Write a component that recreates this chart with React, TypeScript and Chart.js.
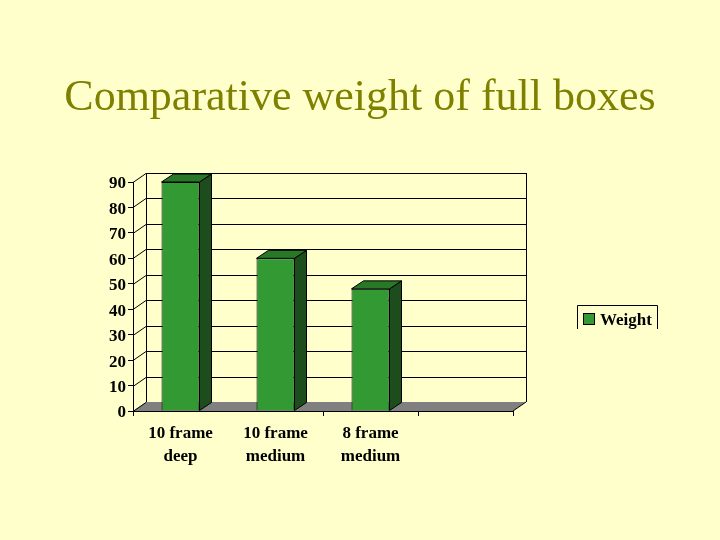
import { useEffect, useRef } from "react";
import { Chart, registerables } from "chart.js";

Chart.register(...registerables);

const categories: (string | string[])[] = [
  ["10 frame", "deep"],
  ["10 frame", "medium"],
  ["8 frame", "medium"],
  "",
];
const weights: (number | null)[] = [90, 60, 48, null];
const yTicks = [0, 10, 20, 30, 40, 50, 60, 70, 80, 90];
const seriesLabel = "Weight";
const chartTitle = "Comparative weight of full boxes";

const BG = "#ffffcc";
const FONT = "'Liberation Serif', 'Times New Roman', serif";
const DX = 13; // depth of the 3D box
const DY = -9;

// draws the back wall, left wall, floor and the 3D sides of the bars
const box3d = {
  id: "box3d",
  beforeDatasetsDraw(chart: Chart) {
    const { ctx, chartArea, scales } = chart;
    const { left, right, top, bottom } = chartArea;
    const y = scales.y;
    ctx.save();
    ctx.strokeStyle = "#000";
    ctx.lineWidth = 1;

    // floor
    ctx.fillStyle = "#808080";
    ctx.beginPath();
    ctx.moveTo(left, bottom);
    ctx.lineTo(right, bottom);
    ctx.lineTo(right + DX, bottom + DY);
    ctx.lineTo(left + DX, bottom + DY);
    ctx.closePath();
    ctx.fill();
    ctx.beginPath();
    ctx.moveTo(right, bottom);
    ctx.lineTo(right + DX, bottom + DY);
    ctx.stroke();

    // grid lines on back wall + diagonals on the left wall
    yTicks.forEach((v) => {
      const py = Math.round(y.getPixelForValue(v)) + 0.5;
      ctx.beginPath();
      ctx.moveTo(left, py);
      ctx.lineTo(left + DX, py + DY);
      if (v !== 0) ctx.lineTo(right + DX, py + DY);
      ctx.stroke();
    });

    // wall edges
    ctx.beginPath();
    ctx.moveTo(left + DX + 0.5, top + DY);
    ctx.lineTo(left + DX + 0.5, bottom + DY);
    ctx.moveTo(right + DX + 0.5, top + DY);
    ctx.lineTo(right + DX + 0.5, bottom + DY);
    ctx.stroke();
    ctx.restore();
  },
  afterDatasetsDraw(chart: Chart) {
    const { ctx } = chart;
    const meta = chart.getDatasetMeta(0);
    const bx = DX - 1;
    const by = DY + 1;
    ctx.save();
    ctx.strokeStyle = "#000";
    ctx.lineWidth = 1;
    meta.data.forEach((bar: any, i) => {
      if (weights[i] == null) return;
      const { x, y, base, width } = bar.getProps(["x", "y", "base", "width"], true);
      const l = x - width / 2;
      const r = x + width / 2;
      // side face
      ctx.fillStyle = "#1d4d1d";
      ctx.beginPath();
      ctx.moveTo(r, y);
      ctx.lineTo(r + bx, y + by);
      ctx.lineTo(r + bx, base + by);
      ctx.lineTo(r, base);
      ctx.closePath();
      ctx.fill();
      ctx.stroke();
      // top face
      ctx.fillStyle = "#287828";
      ctx.beginPath();
      ctx.moveTo(l, y);
      ctx.lineTo(l + bx, y + by);
      ctx.lineTo(r + bx, y + by);
      ctx.lineTo(r, y);
      ctx.closePath();
      ctx.fill();
      ctx.stroke();
    });
    ctx.restore();
  },
  afterDraw(chart: Chart) {
    const { ctx } = chart;
    ctx.save();
    // title
    ctx.fillStyle = "#808000";
    ctx.font = `44px ${FONT}`;
    ctx.textAlign = "center";
    ctx.textBaseline = "alphabetic";
    ctx.fillText(chartTitle, 360, 110);

    // legend
    ctx.strokeStyle = "#000";
    ctx.lineWidth = 1;
    ctx.beginPath();
    ctx.moveTo(577.5, 329);
    ctx.lineTo(577.5, 305.5);
    ctx.lineTo(657.5, 305.5);
    ctx.lineTo(657.5, 329);
    ctx.stroke();
    ctx.fillStyle = "#339933";
    ctx.fillRect(583, 313, 11, 11);
    ctx.strokeRect(583.5, 313.5, 11, 11);
    ctx.fillStyle = "#000";
    ctx.font = `bold 17px ${FONT}`;
    ctx.textAlign = "left";
    ctx.fillText(seriesLabel, 600, 325);
    ctx.restore();
  },
};

export default function App() {
  const canvasRef = useRef<HTMLCanvasElement>(null);
  const chartRef = useRef<Chart | null>(null);

  useEffect(() => {
    if (!canvasRef.current) return;
    if (chartRef.current) chartRef.current.destroy();

    chartRef.current = new Chart(canvasRef.current, {
      type: "bar",
      data: {
        labels: categories,
        datasets: [
          {
            label: seriesLabel,
            data: weights,
            backgroundColor: "#339933",
            borderColor: "#000",
            borderWidth: 1,
            barPercentage: 0.4,
            categoryPercentage: 1,
          },
        ],
      },
      options: {
        responsive: false,
        animation: false,
        layout: { padding: { left: 0, top: 182, right: 207, bottom: 69 } },
        plugins: {
          legend: { display: false },
          title: { display: false },
          tooltip: { enabled: false },
        },
        scales: {
          x: {
            afterFit: (s: any) => {
              s.height = 60;
            },
            grid: {
              drawOnChartArea: false,
              tickLength: 5,
              color: (c: any) => (c.index === 1 ? "rgba(0,0,0,0)" : "#000"),
            },
            border: { display: true, color: "#000" },
            ticks: {
              color: "#000",
              padding: 7,
              maxRotation: 0,
              font: { family: FONT, size: 17, weight: "bold", lineHeight: 1.3 },
            },
          },
          y: {
            min: 0,
            max: 90,
            afterFit: (s: any) => {
              s.width = 133;
            },
            grid: { drawOnChartArea: false, tickLength: 5, color: "#000" },
            border: { display: true, color: "#000" },
            ticks: {
              stepSize: 10,
              color: "#000",
              padding: 2,
              labelOffset: 2,
              font: { family: FONT, size: 17, weight: "bold" },
            },
          },
        },
      },
      plugins: [box3d],
    });

    return () => {
      if (chartRef.current) {
        chartRef.current.destroy();
        chartRef.current = null;
      }
    };
  }, []);

  return (
    <div style={{ position: "fixed", left: 0, top: 0, width: 720, height: 540, background: BG }}>
      <canvas ref={canvasRef} width={720} height={540} />
    </div>
  );
}
